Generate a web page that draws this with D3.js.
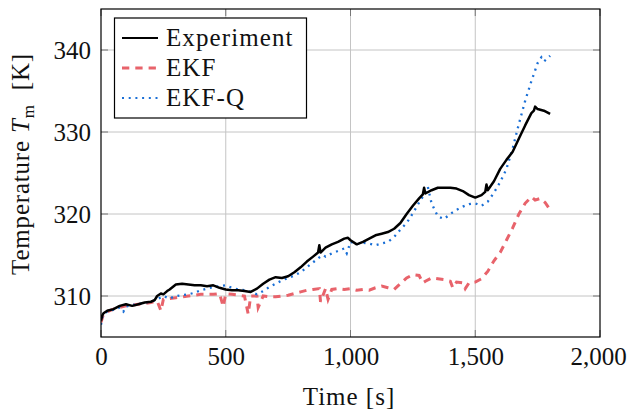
<!DOCTYPE html>
<html><head><meta charset="utf-8">
<script src="https://cdn.jsdelivr.net/npm/d3@7/dist/d3.min.js"></script>
<style>body{margin:0;background:#fff}svg{display:block}</style>
</head><body><svg id="c" width="627" height="413"></svg>
<script>
// ---- data ----
const xTicks = [0, 500, 1000, 1500, 2000];
const yTicks = [310, 320, 330, 340];
const seriesNames = ["Experiment", "EKF", "EKF-Q"];

const expTime = [0,5,10,25,50,75,100,125,150,175,200,215,225,240,250,265,275,300,325,350,375,400,425,450,475,500,525,550,575,600,625,650,675,700,725,750,775,800,825,850,870,875,880,900,925,950,975,990,1000,1025,1050,1075,1100,1125,1150,1175,1200,1225,1250,1275,1290,1295,1300,1325,1350,1375,1400,1425,1450,1475,1500,1525,1540,1545,1550,1575,1600,1625,1650,1675,1700,1725,1735,1740,1750,1775,1800];
const expTemp = [307.0,307.6,307.9,308.2,308.4,308.8,309.0,308.8,309.0,309.2,309.3,309.5,310.0,310.3,310.2,310.6,310.8,311.4,311.5,311.4,311.3,311.3,311.2,311.3,311.0,310.8,310.7,310.7,310.6,310.5,310.9,311.5,312.0,312.3,312.2,312.4,312.9,313.5,314.2,314.8,315.3,316.2,315.3,315.9,316.3,316.6,317.0,317.1,316.8,316.3,316.6,317.0,317.4,317.6,317.8,318.2,318.9,320.0,321.0,321.9,322.4,323.2,322.5,322.9,323.2,323.2,323.2,323.1,322.8,322.3,322.0,322.3,322.7,323.6,322.9,324.0,325.5,326.6,327.6,329.2,330.8,332.3,332.6,333.1,332.8,332.6,332.2];

const ekfTime = [0,10,25,50,75,100,125,150,175,200,225,240,250,275,300,325,350,375,400,425,450,475,490,500,525,550,575,590,600,625,630,650,675,700,725,750,775,800,825,850,875,880,900,910,925,950,975,1000,1025,1050,1075,1100,1125,1150,1175,1200,1225,1250,1275,1290,1300,1325,1350,1375,1400,1410,1425,1450,1460,1475,1500,1525,1550,1575,1600,1625,1650,1675,1700,1725,1740,1760,1780,1800];
const ekfTemp = [306.8,307.8,308.1,308.4,308.6,308.8,308.9,309.0,309.1,309.2,309.4,308.2,309.6,309.7,309.8,309.9,310.0,310.1,310.2,310.2,310.2,310.3,308.7,310.3,310.2,310.1,310.0,307.8,310.0,310.0,308.6,310.0,309.9,309.9,310.0,310.1,310.3,310.5,310.7,310.8,310.9,309.3,310.9,309.6,310.8,310.9,310.8,310.9,310.7,310.8,310.7,311.0,311.2,311.0,310.8,311.5,312.2,312.6,312.5,311.6,311.8,312.2,312.1,312.0,311.8,311.0,311.7,311.6,310.9,311.6,311.7,312.1,313.0,314.3,315.3,316.8,318.3,320.0,321.3,322.1,321.7,321.9,321.4,320.5];

const ekfqTime = [0,5,15,30,50,75,90,100,125,150,175,200,225,250,275,300,325,350,375,400,425,450,475,500,525,550,575,600,625,650,675,700,725,750,775,800,825,850,875,890,900,925,950,975,985,1000,1025,1050,1075,1100,1125,1150,1175,1200,1225,1250,1275,1300,1310,1325,1350,1375,1400,1425,1450,1475,1500,1525,1550,1575,1600,1625,1650,1675,1700,1725,1750,1765,1775,1790,1800];
const ekfqTemp = [306.5,307.4,307.9,308.2,308.3,308.6,308.1,308.7,308.9,309.0,309.2,309.3,309.6,310.0,309.7,310.0,310.1,310.2,310.4,310.7,310.9,311.1,311.2,311.3,311.0,310.8,310.7,310.5,310.2,310.6,311.1,311.5,311.9,312.2,312.5,312.9,313.5,314.1,314.7,315.0,314.8,315.2,315.5,315.8,315.2,316.6,316.3,316.5,316.4,316.2,316.4,316.6,317.2,318.1,318.9,320.1,321.4,322.6,323.3,321.3,319.7,319.4,320.0,320.5,320.9,321.2,321.3,321.0,321.5,322.6,323.9,325.5,328.0,331.0,333.8,336.2,338.4,339.1,338.6,339.0,339.3];

// ---- drawing ----
const FONT = '"Liberation Serif", "DejaVu Serif", serif';
const svg = d3.select("#c").attr("font-family", FONT);
const L = 101, R = 600, T = 9, B = 337;
const x = d3.scaleLinear().domain([0, 2000]).range([L, R]);
const y = d3.scaleLinear().domain([305, 345]).range([B, T]);

// grid
svg.append("g").selectAll("line").data(xTicks.slice(1, -1)).join("line")
  .attr("x1", d => x(d)).attr("x2", d => x(d)).attr("y1", T).attr("y2", B)
  .attr("stroke", "#c4c4c4").attr("stroke-width", 1);
svg.append("g").selectAll("line").data(yTicks).join("line")
  .attr("y1", d => y(d)).attr("y2", d => y(d)).attr("x1", L).attr("x2", R)
  .attr("stroke", "#c4c4c4").attr("stroke-width", 1);

// inner ticks on all sides
const tk = 7;
const tg = svg.append("g").attr("stroke", "#777").attr("stroke-width", 1);
xTicks.forEach(d => {
  tg.append("line").attr("x1", x(d)).attr("x2", x(d)).attr("y1", B).attr("y2", B - tk);
  tg.append("line").attr("x1", x(d)).attr("x2", x(d)).attr("y1", T).attr("y2", T + tk);
});
yTicks.forEach(d => {
  tg.append("line").attr("y1", y(d)).attr("y2", y(d)).attr("x1", L).attr("x2", L + tk);
  tg.append("line").attr("y1", y(d)).attr("y2", y(d)).attr("x1", R).attr("x2", R - tk);
});

// tick labels via d3 axes (no lines)
const fmt = d3.format(",");
const xa = svg.append("g").attr("transform", `translate(0,${B})`)
  .call(d3.axisBottom(x).tickValues(xTicks).tickFormat(fmt).tickSize(0).tickPadding(10));
const ya = svg.append("g").attr("transform", `translate(${L},0)`)
  .call(d3.axisLeft(y).tickValues(yTicks).tickSize(0).tickPadding(10));
[xa, ya].forEach(a => {
  a.attr("font-family", FONT).attr("font-size", 25);
  a.select(".domain").remove();
  a.selectAll("text").attr("font-size", 25).attr("font-family", FONT).attr("fill", "#111");
});
ya.selectAll("text").attr("dy", "0.34em");
xa.selectAll("text").filter(d => d === 2000).attr("dx", -2);

// clip
svg.append("clipPath").attr("id", "clip").append("rect")
  .attr("x", L).attr("y", T).attr("width", R - L).attr("height", B - T);

const line = d3.line().x(d => x(d[0])).y(d => y(d[1]));
const plot = svg.append("g").attr("clip-path", "url(#clip)");
const red = "#e8636b", blue = "#1a6fd6";
plot.append("path").datum(d3.zip(ekfTime, ekfTemp)).attr("d", line)
  .attr("fill", "none").attr("stroke", red).attr("stroke-width", 3).attr("stroke-dasharray", "7.3,6");
plot.append("path").datum(d3.zip(ekfqTime, ekfqTemp)).attr("d", line)
  .attr("fill", "none").attr("stroke", blue).attr("stroke-width", 2.3).attr("stroke-dasharray", "2,4.7");
plot.append("path").datum(d3.zip(expTime, expTemp)).attr("d", line)
  .attr("fill", "none").attr("stroke", "#000").attr("stroke-width", 2.5).attr("stroke-linejoin", "round");

// frame
svg.append("rect").attr("x", L).attr("y", T).attr("width", R - L).attr("height", B - T)
  .attr("fill", "none").attr("stroke", "#000").attr("stroke-width", 1.2);

// legend
const lg = svg.append("g");
lg.append("rect").attr("x", 114.5).attr("y", 18).attr("width", 192).attr("height", 100)
  .attr("fill", "#fff").attr("stroke", "#000").attr("stroke-width", 1.2);
const styles = [
  {c: "#000", w: 2.2, da: null},
  {c: red, w: 3, da: "7.3,6"},
  {c: blue, w: 2.2, da: "2,4.7"}
];
seriesNames.forEach((n, i) => {
  const yy = 38 + i * 30;
  lg.append("line").attr("x1", 122).attr("x2", 158).attr("y1", yy).attr("y2", yy)
    .attr("stroke", styles[i].c).attr("stroke-width", styles[i].w)
    .attr("stroke-dasharray", styles[i].da);
  lg.append("text").attr("x", 166).attr("y", 45.5 + i * 30).attr("font-size", 25)
    .attr("letter-spacing", 1.1)
    .attr("font-family", FONT).attr("fill", "#111").text(n);
});

// axis titles
svg.append("text").attr("x", 349).attr("y", 405).attr("text-anchor", "middle")
  .attr("font-size", 25).attr("letter-spacing", 1).attr("font-family", FONT).attr("fill", "#111").text("Time [s]");
const yl = svg.append("text").attr("transform", "translate(29,164) rotate(-90)")
  .attr("text-anchor", "middle").attr("font-size", 25).attr("letter-spacing", 0.8)
  .attr("font-family", FONT).attr("fill", "#111");
yl.append("tspan").text("Temperature ");
yl.append("tspan").attr("font-style", "italic").text("T");
yl.append("tspan").attr("font-size", 17).attr("dy", 5).text("m");
yl.append("tspan").attr("dy", -5).text("\u00a0 [K]");
</script></body></html>
